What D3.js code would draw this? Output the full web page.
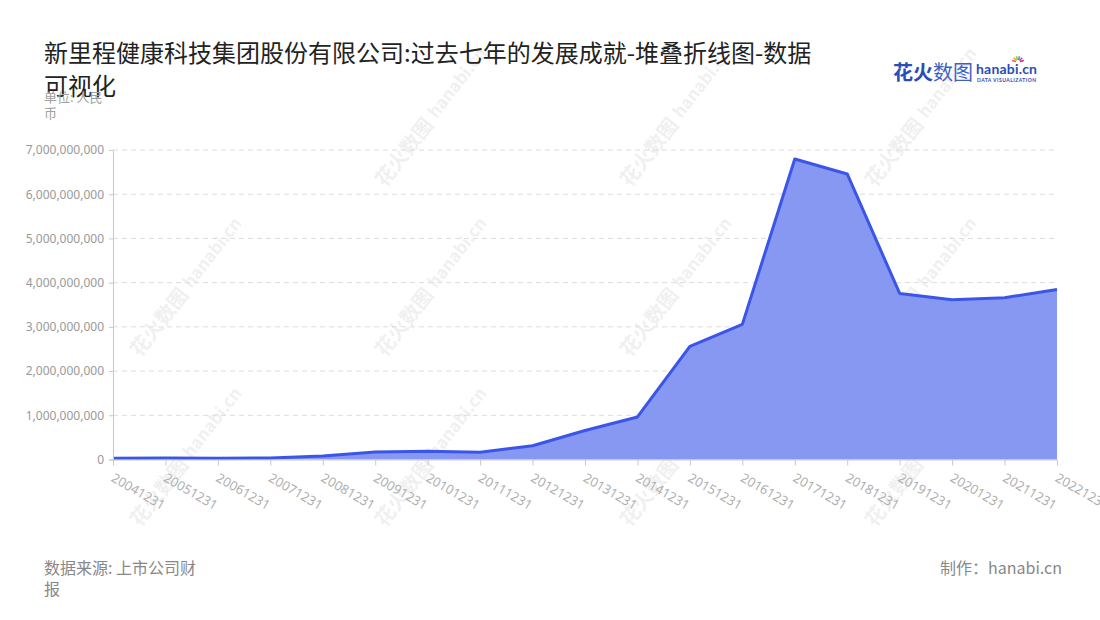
<!DOCTYPE html>
<html>
<head>
<meta charset="utf-8">
<script src="https://cdn.jsdelivr.net/npm/d3@7/dist/d3.min.js"></script>
<style>
  html, body { margin: 0; padding: 0; background: #fff; }
  svg { display: block; font-family: "Noto Sans CJK SC", "Noto Sans", sans-serif; }
</style>
</head>
<body>
<svg id="chart" width="1100" height="620"></svg>
<script>
const categories = ["20041231","20051231","20061231","20071231","20081231","20091231","20101231","20111231","20121231","20131231","20141231","20151231","20161231","20171231","20181231","20191231","20201231","20211231","20221231"];
const values = [30000000, 32000000, 26000000, 35000000, 80000000, 172000000, 188000000, 166000000, 310000000, 655000000, 962000000, 2560000000, 3056000000, 6797000000, 6458000000, 3756000000, 3614000000, 3659000000, 3847000000];
const yTicks = [0, 1000000000, 2000000000, 3000000000, 4000000000, 5000000000, 6000000000, 7000000000];
const titleLines = ["新里程健康科技集团股份有限公司:过去七年的发展成就-堆叠折线图-数据", "可视化"];
const unitLines = ["单位: 人民", "币"];
const sourceLines = ["数据来源: 上市公司财", "报"];
const madeBy = "制作：hanabi.cn";

(function () {
const svg = d3.select("#chart");
const mLeft = 113, mRight = 1057, mTop = 150, mBottom = 459.5;

const x = d3.scalePoint().domain(categories).range([mLeft, mRight]);
const y = d3.scaleLinear().domain([0, 7000000000]).range([mBottom, mTop]);

// watermarks
const wm = svg.append("g").attr("class", "watermarks");
const wmPos = [[385,188],[630,188],[875,188],[140,358],[385,358],[630,358],[875,358],[140,528],[385,528],[630,528],[875,528]];
wmPos.forEach(([wx, wy]) => {
  const g = wm.append("g").attr("transform", `translate(${wx},${wy}) rotate(-52)`).attr("opacity", 0.055);
  g.append("text").attr("x", 0).attr("y", 0).attr("font-size", 20).attr("font-weight", 700).attr("fill", "#000").text("花火数图");
  g.append("text").attr("x", 86).attr("y", -2).attr("font-size", 17).attr("font-weight", 700).attr("fill", "#000").text("hanabi.cn");
});

// gridlines
svg.append("g").selectAll("line").data(yTicks.filter(d => d > 0)).join("line")
  .attr("x1", mLeft).attr("x2", mRight).attr("y1", d => y(d)).attr("y2", d => y(d))
  .attr("stroke", "#dcdcdc").attr("stroke-dasharray", "5,4").attr("stroke-width", 1);

// area + line
const area = d3.area().x((d, i) => x(categories[i])).y0(y(0)).y1(d => y(d));
const line = d3.line().x((d, i) => x(categories[i])).y(d => y(d));
svg.append("path").datum(values).attr("d", area).attr("fill", "#8798f2");
svg.append("path").datum(values).attr("d", line).attr("fill", "none").attr("stroke", "#3b55e8").attr("stroke-width", 3).attr("stroke-linejoin", "round");

// y axis
const yAxis = svg.append("g").attr("transform", `translate(${mLeft},0)`)
  .call(d3.axisLeft(y).tickValues(yTicks).tickFormat(d3.format(",")).tickSize(4).tickPadding(5));
yAxis.select(".domain").attr("stroke", "#c8c8c8");
yAxis.selectAll(".tick line").attr("stroke", "#c8c8c8");
yAxis.selectAll("text").attr("font-size", 12).attr("fill", "#999").attr("font-family", "'Noto Sans', sans-serif");

// x axis
const xAxis = svg.append("g").attr("transform", `translate(0,${mBottom})`)
  .call(d3.axisBottom(x).tickSize(6).tickSizeOuter(0));
xAxis.select(".domain").attr("stroke", "#c8c8c8");
xAxis.selectAll(".tick line").attr("stroke", "#c8c8c8");
xAxis.selectAll("text")
  .attr("font-size", 13).attr("fill", "#b0b0b0").attr("font-family", "'Noto Sans', sans-serif")
  .attr("text-anchor", "start").attr("x", 0).attr("y", 0).attr("dy", "0.35em")
  .attr("transform", "translate(-1,17) rotate(30)");

// title
const title = svg.append("text").attr("font-size", 24).attr("fill", "#222");
titleLines.forEach((t, i) => title.append("tspan").attr("x", 44).attr("y", 62 + i * 33).text(t));

// unit
const unit = svg.append("text").attr("font-size", 13).attr("fill", "#a0a0a0");
unitLines.forEach((t, i) => unit.append("tspan").attr("x", 44).attr("y", 102 + i * 16).text(t));

// source
const src = svg.append("text").attr("font-size", 16).attr("fill", "#888");
sourceLines.forEach((t, i) => src.append("tspan").attr("x", 44).attr("y", 574 + i * 21).text(t));

svg.append("text").attr("x", 1062).attr("y", 574).attr("text-anchor", "end").attr("font-size", 16).attr("fill", "#888").text(madeBy);

// logo
const logo = svg.append("g");
logo.append("text").attr("x", 893).attr("y", 80).attr("font-size", 20).attr("font-weight", 700).attr("fill", "#2c4cb8").text("花火");
logo.append("text").attr("x", 933).attr("y", 80).attr("font-size", 20).attr("fill", "#3f5fc4").text("数图");
logo.append("text").attr("x", 976).attr("y", 74).attr("font-size", 14).attr("font-weight", 700).attr("fill", "#2c4cb8").attr("font-family", "Lato, sans-serif").attr("textLength", 61).text("hanabi.cn");
logo.append("text").attr("x", 977).attr("y", 82).attr("font-size", 5).attr("font-weight", 700).attr("fill", "#2c4cb8").attr("font-family", "Lato, sans-serif").attr("textLength", 59).text("DATA VISUALIZATION");
const sparkColors = ["#f25c5c","#f5a623","#7ed321","#4a90e2","#9b59b6","#e91e63"];
sparkColors.forEach((c, i) => {
  const a = -Math.PI + (i + 0.5) * Math.PI / sparkColors.length;
  logo.append("line").attr("x1", 1018 + Math.cos(a) * 2).attr("y1", 62 + Math.sin(a) * 2)
    .attr("x2", 1018 + Math.cos(a) * 6).attr("y2", 62 + Math.sin(a) * 6)
    .attr("stroke", c).attr("stroke-width", 1.5);
});
})();
</script>
</body>
</html>
